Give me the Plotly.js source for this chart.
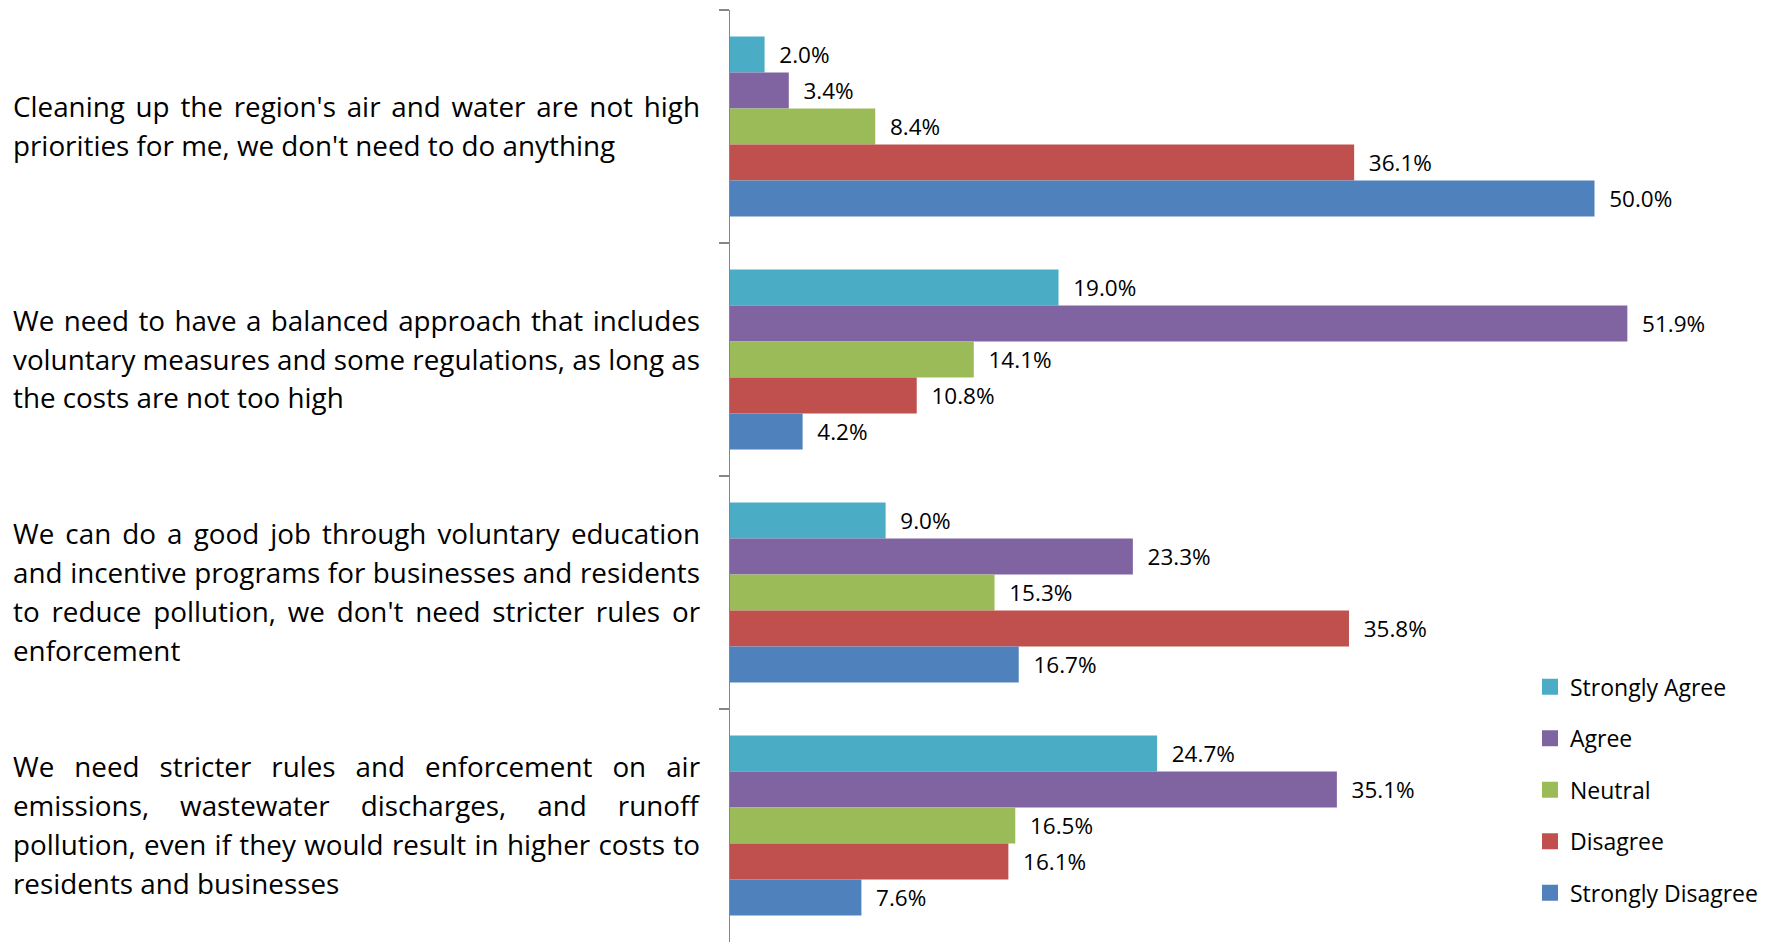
<!DOCTYPE html>
<html>
<head>
<meta charset="utf-8">
<script src="https://cdn.plot.ly/plotly-3.0.1.min.js"></script>
<style>
  html, body { margin: 0; padding: 0; background: #ffffff; }
  #chart { width: 1771px; height: 942px; }
</style>
</head>
<body>
<div id="chart"></div>
<script>
// ---- data ----
const categoryLines = [
  ["Cleaning up the region's air and water are not high", "priorities for me, we don't need to do anything"],
  ["We need to have a balanced approach that includes", "voluntary measures and some regulations, as long as", "the costs are not too high"],
  ["We can do a good job through voluntary education", "and incentive programs for businesses and residents", "to reduce pollution, we don't need stricter rules or", "enforcement"],
  ["We need stricter rules and enforcement on air", "emissions, wastewater discharges, and runoff", "pollution, even if they would result in higher costs to", "residents and businesses"]
];
const categories = categoryLines.map(l => l.join(' '));

const seriesNames = ["Strongly Agree", "Agree", "Neutral", "Disagree", "Strongly Disagree"];
const stronglyAgree    = [2.0, 19.0, 9.0, 24.7];
const agree            = [3.4, 51.9, 23.3, 35.1];
const neutral          = [8.4, 14.1, 15.3, 16.5];
const disagree         = [36.1, 10.8, 35.8, 16.1];
const stronglyDisagree = [50.0, 4.2, 16.7, 7.6];
const seriesValues = [stronglyAgree, agree, neutral, disagree, stronglyDisagree];
const seriesColors = ["#4BACC6", "#8064A2", "#9BBB59", "#C0504D", "#4F81BD"];

// ---- layout constants ----
const FONT = "'Open Sans', Lato, sans-serif";
const W = 1771, H = 942;
const ML = 730, MR = 0, MT = 10, MB = 0;
const plotW = W - ML - MR;
const LABEL_LEFT_PX = 12;
const LABEL_RIGHT_PX = 699;
const LINE_SPACING_PX = 38.9;

const traces = seriesNames.map((name, i) => ({
  type: 'bar',
  orientation: 'h',
  name: name,
  y: categories,
  x: seriesValues[i],
  marker: { color: seriesColors[i], line: { width: 0 } },
  text: seriesValues[i].map(v => v.toFixed(1) + '%'),
  texttemplate: '\u00a0\u00a0%{text}',
  textposition: 'outside',
  constraintext: 'none',
  cliponaxis: false,
  textfont: { family: FONT, size: 22.5, color: '#000000' },
  hoverinfo: 'skip',
  legendgroup: 'g' + i
}));

const annotations = [];
categoryLines.forEach((lines, ci) => {
  const n = lines.length;
  lines.forEach((line, li) => {
    annotations.push({
      xref: 'paper', yref: 'y',
      x: (LABEL_LEFT_PX - ML) / plotW,
      y: categories[ci],
      xanchor: 'left', yanchor: 'middle',
      yshift: -((li - (n - 1) / 2) * LINE_SPACING_PX) + 1,
      text: line,
      showarrow: false,
      align: 'left',
      borderpad: 0,
      font: { family: FONT, size: 27.8, color: '#000000' }
    });
  });
});

const layout = {
  width: W, height: H,
  margin: { l: ML, r: MR, t: MT, b: MB, pad: 0 },
  paper_bgcolor: '#ffffff',
  plot_bgcolor: '#ffffff',
  barmode: 'group',
  bargap: 0.227,
  bargroupgap: 0,
  showlegend: true,
  legend: {
    x: (1530 - ML) / plotW, xanchor: 'left',
    y: 0.297, yanchor: 'top',
    traceorder: 'grouped',
    tracegroupgap: 18.6,
    font: { family: FONT, size: 23, color: '#000000' },
    bgcolor: 'rgba(255,255,255,0)',
    borderwidth: 0
  },
  xaxis: {
    range: [0, plotW / 17.29],
    visible: false,
    fixedrange: true
  },
  yaxis: {
    type: 'category',
    autorange: 'reversed',
    showticklabels: false,
    showgrid: false,
    zeroline: false,
    showline: true,
    linecolor: '#868686',
    linewidth: 1.5,
    ticks: 'outside',
    tickson: 'boundaries',
    ticklen: 10,
    tickcolor: '#868686',
    tickwidth: 1.5,
    fixedrange: true
  },
  annotations: annotations,
  font: { family: FONT, color: '#000000' }
};

Plotly.newPlot('chart', traces, layout, { displayModeBar: false, staticPlot: true }).then(gd => {
  // justify non-final lines of each statement (as in the original text block)
  const annGroups = gd.querySelectorAll('.annotation');
  const flat = [];
  categoryLines.forEach(lines => lines.forEach((l, li) => flat.push(li < lines.length - 1)));
  annGroups.forEach((g, idx) => {
    const t = g.querySelector('text.annotation-text');
    if (!t || !flat[idx]) return;
    const bb = t.getBBox();
    const nSpaces = (t.textContent.match(/ /g) || []).length;
    if (!nSpaces) return;
    const target = LABEL_RIGHT_PX - LABEL_LEFT_PX;
    const extra = (target - bb.width) / nSpaces;
    t.setAttribute('text-anchor', 'start');
    t.setAttribute('x', bb.x);
    t.style.wordSpacing = extra + 'px';
  });
  // larger legend swatches, like the original
  gd.querySelectorAll('.legend .legendpoints path').forEach(p => {
    p.setAttribute('d', 'M8,8H-8V-8H8Z');
  });
});
</script>
</body>
</html>
